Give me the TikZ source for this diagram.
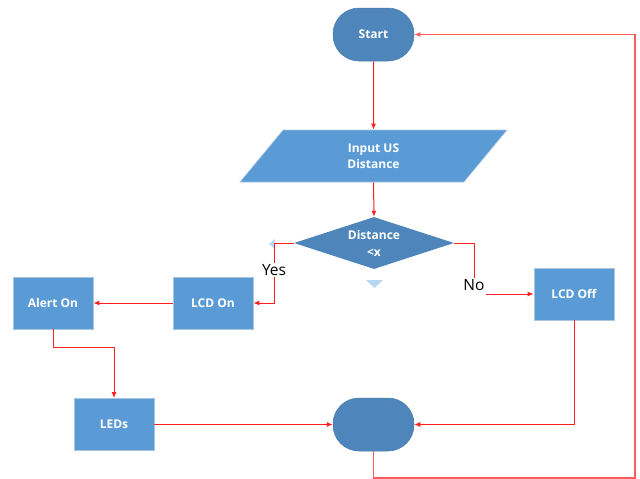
\documentclass[tikz,border=0pt]{standalone}
\usepackage{fontspec}
\setmainfont{Open Sans}
\usetikzlibrary{shapes.geometric,arrows.meta}
\definecolor{boxblue}{HTML}{5B9BD5}
\definecolor{darkblue}{HTML}{4E86BC}
\definecolor{edgeblue}{HTML}{A9C5E2}
\definecolor{linered}{HTML}{FF2020}
\definecolor{loopred}{HTML}{FF5C5C}
\definecolor{handle}{HTML}{B4D8F0}
\begin{document}
\begin{tikzpicture}[x=1pt,y=-1pt,
  lbl/.style={font=\bfseries\fontsize{12}{16}\selectfont, text=white, align=center},
  procbox/.style={lbl, rectangle, fill=boxblue, draw=edgeblue, line width=0.8pt,
    minimum width=80pt, minimum height=52pt, inner sep=0pt},
  termbox/.style={lbl, rectangle, rounded corners=26pt, fill=darkblue, draw=darkblue!90!black,
    line width=0.5pt, minimum width=81pt, minimum height=53pt, inner sep=0pt},
  iobox/.style={lbl, trapezium, trapezium left angle=63.4, trapezium right angle=116.6,
    trapezium stretches=true, fill=boxblue, draw=edgeblue, line width=0.6pt,
    minimum width=269pt, minimum height=52pt, inner sep=0pt},
  decbox/.style={lbl, diamond, aspect=3, fill=darkblue, minimum width=160pt,
    minimum height=52pt, inner sep=0pt},
  answer/.style={font=\fontsize{15.5}{18}\selectfont, text=black, fill=white, inner sep=1.5pt},
  flowline/.style={draw=linered, line width=1pt},
  flow/.style={flowline, -{Latex[length=6pt,width=5pt]}},
  loopback/.style={draw=loopred, line width=1.1pt, -{Latex[length=6pt,width=5pt]}}
]
\useasboundingbox (0,0) rectangle (640,479);

% handles (faint connection markers)
\fill[handle] (269,244) -- (275,239) -- (275,249) -- cycle;
\fill[handle] (366,280) -- (383,280) -- (374.5,288) -- cycle;

% nodes
\node[termbox] (start) at (373.5,34.5) {Start};
\node[iobox]   (input) at (373.5,156) {Input US\\Distance};
\node[decbox]  (dec)   at (374,243) {Distance\\[1pt]<x};
\node[procbox] (lcdon) at (213,303) {LCD On};
\node[procbox] (alert) at (53,303) {Alert On};
\node[procbox] (leds)  at (114,424.5) {LEDs};
\node[procbox] (lcdoff) at (574,294) {LCD Off};
\node[termbox] (endt)  at (373.5,424.5) {};
\node[answer]  (yes)   at (274,270) {Yes};
\node[answer]  (no)    at (474,285) {No};
\coordinate (rc) at (635,478);

% connectors
\draw[flow] (start.south) -- (input.north);
\draw[flow] (input.south) -- (dec.north);
\draw[flowline] (dec.west) -| (yes.north);
\draw[flow] (yes.south) |- (lcdon.east);
\draw[flowline] (dec.east) -| (no.north);
\draw[flow] (lcdoff.west -| no.east) -- (lcdoff.west);
\draw[flow] (lcdon.west) -- (alert.east);
\draw[flow] (alert.south) -- ++(0,18) -| (leds.north);
\draw[flow] (leds.east) -- (endt.west);
\draw[flow] (lcdoff.south) |- (endt.east);
\draw[loopback] (endt.south) |- (rc) |- (start.east);
\end{tikzpicture}
\end{document}
